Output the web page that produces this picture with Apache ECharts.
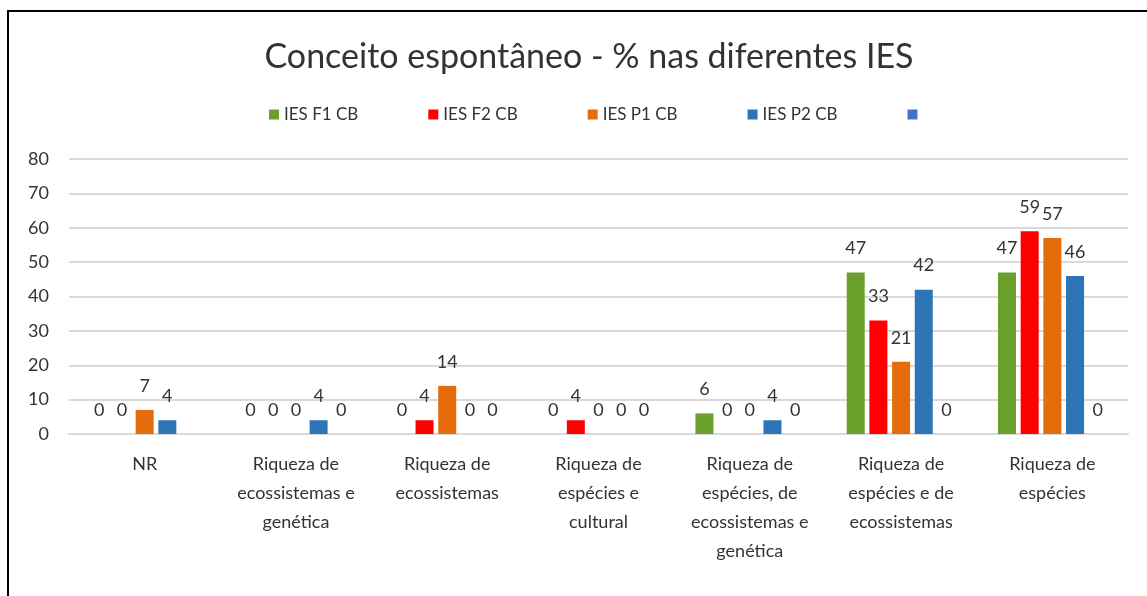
<!DOCTYPE html>
<html>
<head>
<meta charset="utf-8">
<script src="https://cdn.jsdelivr.net/npm/echarts@6/dist/echarts.min.js"></script>
<style>
  html, body { margin: 0; padding: 0; background: #fff; }
  #chart { width: 1147px; height: 596px; }
</style>
</head>
<body>
<div id="chart"></div>
<script>
// categorias
const categories = [
  'NR',
  'Riqueza de\necossistemas e\ngenética',
  'Riqueza de\necossistemas',
  'Riqueza de\nespécies e\ncultural',
  'Riqueza de\nespécies, de\necossistemas e\ngenética',
  'Riqueza de\nespécies e de\necossistemas',
  'Riqueza de\nespécies'
]
const seriesNames = ['IES F1 CB', 'IES F2 CB', 'IES P1 CB', 'IES P2 CB', ' ']
const iesF1 = [0, 0, 0, 0, 6, 47, 47]
const iesF2 = [0, 0, 4, 4, 0, 33, 59]
const iesP1 = [7, 0, 14, 0, 0, 21, 57]
const iesP2 = [4, 4, 0, 0, 4, 42, 46]
const extra = ['-', 0, 0, 0, 0, 0, 0]
const yTicks = [0, 10, 20, 30, 40, 50, 60, 70, 80]

const colors = ['#6aa02c', '#ff0000', '#e46c0a', '#2e75b6', '#4472c4']
const font = 'Lato, "Noto Sans", sans-serif'

const chart = echarts.init(document.getElementById('chart'))

const allData = [iesF1, iesF2, iesP1, iesP2, extra]
const series = allData.map((d, i) => ({
  name: seriesNames[i],
  type: 'bar',
  data: d,
  barWidth: 18,
  barGap: '26%',
  itemStyle: { color: colors[i] },
  label: {
    show: true,
    position: 'top',
    distance: 15,
    color: '#333',
    fontSize: 18,
    fontFamily: font
  }
}))

chart.setOption({
  animation: false,
  color: colors,
  title: {
    text: 'Conceito espontâneo - % nas diferentes IES',
    left: 584,
    top: 35,
    textAlign: 'center',
    textStyle: {
      color: '#333',
      fontSize: 34,
      fontWeight: 'normal',
      fontFamily: font
    }
  },
  legend: {
    top: 101,
    left: 264,
    itemWidth: 10,
    itemHeight: 10,
    itemGap: 70,
    icon: 'rect',
    data: seriesNames,
    textStyle: {
      color: '#333',
      fontSize: 17,
      fontFamily: font
    }
  },
  grid: {
    left: 69,
    right: 19,
    top: 159,
    bottom: 162
  },
  xAxis: {
    type: 'category',
    data: categories,
    axisTick: { show: false },
    axisLine: { lineStyle: { color: '#d9d9d9', width: 2 } },
    axisLabel: {
      interval: 0,
      margin: 16,
      color: '#333',
      fontSize: 18,
      lineHeight: 29,
      fontFamily: font
    }
  },
  yAxis: {
    type: 'value',
    min: yTicks[0],
    max: yTicks[yTicks.length - 1],
    interval: 10,
    axisLine: { show: false },
    axisTick: { show: false },
    splitLine: { lineStyle: { color: '#d9d9d9', width: 2 } },
    axisLabel: {
      margin: 20,
      color: '#333',
      fontSize: 18,
      fontFamily: font
    }
  },
  graphic: [
    {
      type: 'line',
      shape: { x1: 8, y1: 11, x2: 1147, y2: 11 },
      style: { stroke: '#000', lineWidth: 2 }
    },
    {
      type: 'line',
      shape: { x1: 8, y1: 10, x2: 8, y2: 596 },
      style: { stroke: '#000', lineWidth: 2 }
    }
  ],
  series: series
})
</script>
</body>
</html>
